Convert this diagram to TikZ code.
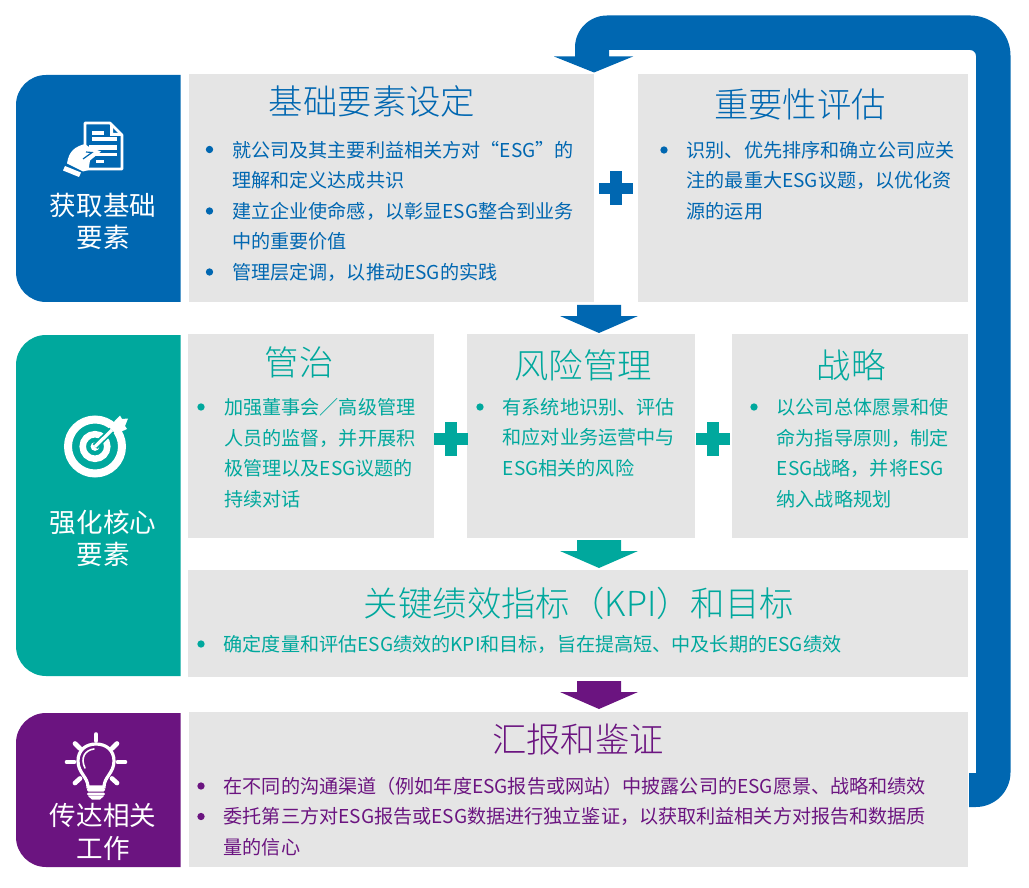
\documentclass[tikz,border=0pt]{standalone}
\usepackage{fontspec}
\setmainfont{Noto Sans CJK SC}
\newfontfamily\titlefont{Noto Sans CJK SC Light}
\definecolor{cblue}{HTML}{0067B1}
\definecolor{cteal}{HTML}{00A89D}
\definecolor{cpurple}{HTML}{6B1480}
\definecolor{cgray}{HTML}{E5E5E5}
\newcommand{\blockarrow}[3]{%
  \fill[#1] (#2-22,#3) -- (#2+22,#3) -- (#2+22,#3+11) -- (#2+39,#3+11) -- (#2,#3+28) -- (#2-39,#3+11) -- (#2-22,#3+11) -- cycle;}
\newcommand{\plussign}[3]{%
  \fill[#1] (#2-5.7,#3-17) rectangle (#2+5.7,#3+17);
  \fill[#1] (#2-17,#3-5.6) rectangle (#2+17,#3+5.6);}
\newcommand{\lst}{\rule[-0.28em]{0pt}{1.1em}}
\newcommand{\sidepanel}[3]{%
  \fill[#1] (180.5,#2) [rounded corners=22.5pt] -- (16,#2) -- (16,#3) [sharp corners] -- (180.5,#3) -- cycle;}
\tikzset{
  x=0.75pt,y=-0.75pt,
  panelbox/.style={fill=cgray,draw=none},
  sidelabel/.style={text=white,font=\fontsize{19.9}{24.2}\selectfont,align=center,inner sep=0pt},
  boxtitle/.style={font=\titlefont\fontsize{25.8}{30}\selectfont,inner sep=0pt},
  itemtext/.style={font=\fontsize{14.33}{22.9}\selectfont,align=left,anchor=west,inner sep=0pt},
  itemdot/.style={circle,inner sep=0pt,minimum size=5.5pt},
}
\begin{document}
\begin{tikzpicture}
\useasboundingbox (0,0) rectangle (1029,888);
% side panels
\sidepanel{cblue}{75}{302}
\sidepanel{cteal}{335}{676}
\sidepanel{cpurple}{713}{867}
% grey boxes
\fill[panelbox] (189,74) rectangle (594,302.5);
\fill[panelbox] (638,74) rectangle (968,302.5);
\fill[panelbox] (188,334) rectangle (434,538);
\fill[panelbox] (467,334) rectangle (695,538);
\fill[panelbox] (732,334) rectangle (968,538);
\fill[panelbox] (188,570) rectangle (968,677);
\fill[panelbox] (189,712) rectangle (968,867);
% feedback arrow
\fill[cblue] (969,773) -- (976,773) [rounded corners=4.5pt] -- (976,50) [sharp corners] -- (609,50) -- (609,56.5) -- (633,56.5) -- (594,72.5) -- (554,56.5) -- (575,56.5) [rounded corners=24pt] -- (575,15.5) [rounded corners=30pt] -- (1010.5,15.5) [rounded corners=26pt] -- (1010.5,807) [sharp corners] -- (969,807) -- cycle;
% block arrows
\blockarrow{cblue}{599}{305}
\blockarrow{cteal}{599}{540}
\blockarrow{cpurple}{599}{681}
% plus signs
\plussign{cblue}{616}{188.5}
\plussign{cteal}{451}{439}
\plussign{cteal}{713}{439}
% side labels
\node[sidelabel] (lblA) at (103,221.5) {获取基础\\要素};
\node[sidelabel] (lblB) at (103,538) {强化核心\\要素};
\node[sidelabel] (lblC) at (103,832) {传达相关\\工作};
% titles
\node[boxtitle,text=cblue] (tA) at (372,101.5) {基础要素设定};
\node[boxtitle,text=cblue] (tB) at (800,104.5) {重要性评估};
\node[boxtitle,text=cteal] (tC) at (299,362.5) {管治};
\node[boxtitle,text=cteal] (tD) at (583,365.5) {风险管理};
\node[boxtitle,text=cteal] (tE) at (851,365.5) {战略};
\node[boxtitle,text=cteal] (tF) at (579,603.5) {关键绩效指标（KPI）和目标};
\node[boxtitle,text=cpurple] (tG) at (578,739.5) {汇报和鉴证};
% items A
\node[itemdot,fill=cblue] (dA1) at (209.5,149.5) {};
\node[itemtext,text=cblue] (iA1) at (232,167) {\lst 就公司及其主要利益相关方对“ESG”的\\\lst 理解和定义达成共识};
\node[itemdot,fill=cblue] (dA2) at (209.5,211) {};
\node[itemtext,text=cblue] (iA2) at (232,228) {\lst 建立企业使命感，以彰显ESG整合到业务\\\lst 中的重要价值};
\node[itemdot,fill=cblue] (dA3) at (209.5,272) {};
\node[itemtext,text=cblue] (iA3) at (232,274) {\lst 管理层定调，以推动ESG的实践};
% items B
\node[itemdot,fill=cblue] (dB1) at (664,150) {};
\node[itemtext,text=cblue] (iB1) at (686.5,182.5) {\lst 识别、优先排序和确立公司应关\\\lst 注的最重大ESG议题，以优化资\\\lst 源的运用};
% items C
\node[itemdot,fill=cteal] (dC1) at (201,407) {};
\node[itemtext,text=cteal] (iC1) at (224,455) {\lst 加强董事会／高级管理\\\lst 人员的监督，并开展积\\\lst 极管理以及ESG议题的\\\lst 持续对话};
% items D
\node[itemdot,fill=cteal] (dD1) at (480,407) {};
\node[itemtext,text=cteal] (iD1) at (502.5,439.5) {\lst 有系统地识别、评估\\\lst 和应对业务运营中与\\\lst ESG相关的风险};
% items E
\node[itemdot,fill=cteal] (dE1) at (754,407) {};
\node[itemtext,text=cteal] (iE1) at (776.5,455) {\lst 以公司总体愿景和使\\\lst 命为指导原则，制定\\\lst ESG战略，并将ESG\\\lst 纳入战略规划};
% items F
\node[itemdot,fill=cteal] (dF1) at (201,644) {};
\node[itemtext,text=cteal] (iF1) at (223.5,646) {\lst 确定度量和评估ESG绩效的KPI和目标，旨在提高短、中及长期的ESG绩效};
% items G
\node[itemdot,fill=cpurple] (dG1) at (201,786) {};
\node[itemtext,text=cpurple] (iG1) at (223.5,788) {\lst 在不同的沟通渠道（例如年度ESG报告或网站）中披露公司的ESG愿景、战略和绩效};
\node[itemdot,fill=cpurple] (dG2) at (201,816.5) {};
\node[itemtext,text=cpurple] (iG2) at (223.5,833.5) {\lst 委托第三方对ESG报告或ESG数据进行独立鉴证，以获取利益相关方对报告和数据质\\\lst 量的信心};
% document icon
\draw[white,line width=2pt,line join=round] (85,148) -- (85,123) -- (110,123) -- (122,135) -- (122,169) -- (85,169);
\fill[white] (110,123) -- (110,136) -- (122,136) -- (120,133) -- (113,133) -- (113,125) -- cycle;
\fill[white] (92,131) rectangle (104,135);
\fill[white] (92,137.5) rectangle (117,141.5);
\fill[white] (89,145) rectangle (117,150);
\fill[white] (95,153) rectangle (117,156.5);
\fill[white] (96,160) rectangle (104,163.5);
% hand
\fill[white] (67,163.5) .. controls (68,157) and (70,153) .. (73,150) .. controls (76,147) and (81,145) .. (85,144) -- (89,147) -- (101,151.5) -- (90,160.5) -- (88.5,170) -- (83,171.5) -- cycle;
\draw[cblue,line width=0.9pt] (86,152) -- (92,152.5) -- (83,159);
\fill[white] (65,166) -- (81,172.5) -- (79,177) -- (63,170.5) -- cycle;
% target icon
\draw[white,line width=6pt] (95,446.5) circle[radius=27];
\draw[white,line width=4.9pt] (95,446.5) circle[radius=12.3];
\fill[white] (95,446.5) circle[radius=4.4];
\draw[cteal,line width=5pt] (95,446.5) -- (115,427);
\draw[white,line width=2.4pt] (95,446.5) -- (112,430);
\fill[white] (109,427) -- (120,415.5) -- (122,419) -- (128,418.5) -- (125,426) -- (127,429) -- (116,434) -- cycle;
% bulb icon
\draw[white,line width=2.4pt,line cap=round,fill=cpurple] (88,787) .. controls (88,777) and (78,773) .. (78,761) .. controls (78,750) and (86,744) .. (96,744) .. controls (106,744) and (114,750) .. (114,761) .. controls (114,773) and (104,777) .. (104,787) -- cycle;
\draw[white,line width=1.2pt,line cap=round] (85,768) .. controls (80,758) and (85,750) .. (94,749);
\fill[white,rounded corners=1pt] (87,788) rectangle (105,791.5);
\fill[white,rounded corners=1pt] (87,792.5) rectangle (105,795.5);
\fill[white] (88,796) -- (104,796) -- (100,799.5) -- (92,799.5) -- cycle;
\begin{scope}[white,line width=3.5pt,line cap=round]
\draw (96,734.5) -- (96,740.5);
\draw (75,743.5) -- (80,748.5);
\draw (117,743.5) -- (112,748.5);
\draw (67,762) -- (74,762);
\draw (118,762) -- (125,762);
\draw (75,783) -- (80,778.5);
\draw (117,783) -- (112,778.5);
\end{scope}
\end{tikzpicture}
\end{document}
